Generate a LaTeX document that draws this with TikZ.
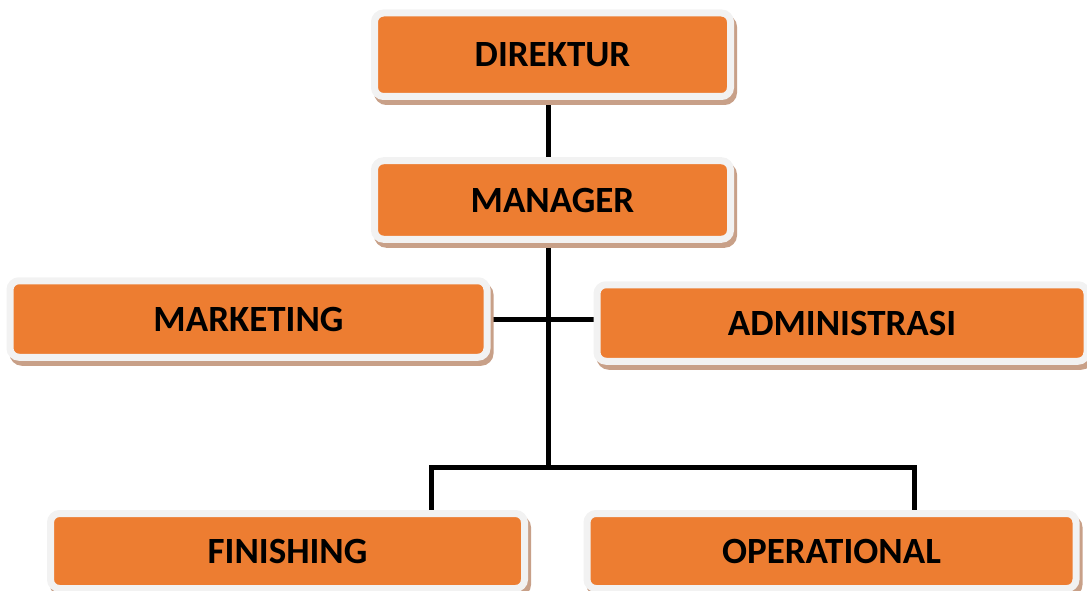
\documentclass[tikz,border=0pt]{standalone}
\usepackage{fontspec}
\setmainfont{Carlito}
\usetikzlibrary{backgrounds}
\definecolor{boxorange}{HTML}{ED7D31}
\definecolor{boxrim}{HTML}{F2F2F2}
\definecolor{boxshadow}{HTML}{C8A088}
\begin{document}
\begin{tikzpicture}[x=1pt,y=-1pt,
  orgbox/.style={rectangle, rounded corners=9pt, fill=boxorange, draw=boxrim, line width=7pt,
    inner sep=0pt, font=\fontsize{37}{42}\selectfont\bfseries,
    preaction={draw=boxshadow, fill=boxshadow, line width=7pt, transform canvas={shift={(3pt,-5pt)}}}},
  link/.style={line width=5pt, black}]
\useasboundingbox (0,0) rectangle (1087,591);
\coordinate (j1) at (548,319);
\coordinate (j2) at (548,467);
\coordinate (fL) at (431,467);
\coordinate (fR) at (914,467);
% boxes
\node[orgbox, minimum width=356pt, minimum height=83.5pt] (DIR) at (552.5,54.75) {DIREKTUR};
\node[orgbox, minimum width=356pt, minimum height=78.5pt] (MAN) at (552.5,200) {MANAGER};
\node[orgbox, minimum width=477pt, minimum height=76.5pt] (MKT) at (248.5,319) {MARKETING};
\node[orgbox, minimum width=490pt, minimum height=76.5pt] (ADM) at (842,323) {ADMINISTRASI};
\node[orgbox, minimum width=474pt, minimum height=75pt] (FIN) at (287.5,551) {FINISHING};
\node[orgbox, minimum width=489pt, minimum height=75pt] (OPS) at (831.5,551) {OPERATIONAL};
% connectors (behind boxes)
\begin{scope}[on background layer]
\draw[link] (DIR.south -| j1) -- (MAN.north -| j1);
\draw[link] (MAN.south -| j1) -- (j2);
\draw[link] (MKT.east |- j1) -- (ADM.west |- j1);
\draw[link] (FIN.north -| fL) -- (fL) -- (fR) -- (OPS.north -| fR);
\end{scope}
\end{tikzpicture}
\end{document}
